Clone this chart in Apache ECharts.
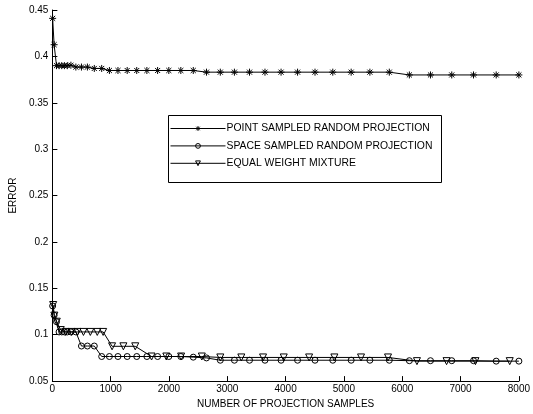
<!DOCTYPE html>
<html>
<head>
<meta charset="utf-8">
<script src="https://cdn.jsdelivr.net/npm/echarts@6/dist/echarts.min.js"></script>
<style>
  html, body { margin: 0; padding: 0; background: #fff; }
  #chart { width: 533px; height: 414px; }
</style>
</head>
<body>
<div id="chart"></div>
<script>
// Sample counts for the point- and space-sampled runs
const samplesA = [5, 30, 71, 115, 161, 206, 257, 318, 403, 499, 601, 719, 846, 978, 1125, 1283, 1447, 1621, 1805, 1997,
  2203, 2416, 2643, 2880, 3122, 3381, 3646, 3922, 4205, 4504, 4809, 5124, 5445, 5778, 6122, 6484, 6849, 7222, 7611, 8000];

// Sample counts for the equal-weight mixture
const samplesB = [14, 34, 76, 144, 228, 330, 431, 533, 651, 770, 871, 1024, 1218, 1421, 1701, 1954, 2208, 2563, 2880,
  3240, 3613, 3968, 4403, 4836, 5293, 5756, 6252, 6760, 7255, 7843];

const pointErr = [0.441, 0.4126, 0.390, 0.390, 0.390, 0.390, 0.390, 0.3905, 0.3885, 0.3885, 0.3885, 0.387, 0.387,
  0.3848, 0.3848, 0.3848, 0.3848, 0.3848, 0.3848, 0.3848, 0.3848, 0.3848,
  0.383, 0.383, 0.383, 0.383, 0.383, 0.383, 0.383, 0.383, 0.383, 0.383, 0.383, 0.383,
  0.380, 0.380, 0.380, 0.380, 0.380, 0.380];

const spaceErr = [0.131, 0.121, 0.114, 0.103, 0.103, 0.103, 0.103, 0.103, 0.103, 0.0878, 0.0878, 0.0878,
  0.0765, 0.0765, 0.0765, 0.0765, 0.0765, 0.0765, 0.0765, 0.0765, 0.0765, 0.0758, 0.075,
  0.0725, 0.0725, 0.0725, 0.0725, 0.0725, 0.0725, 0.0725, 0.0725, 0.0725, 0.0725, 0.0725,
  0.072, 0.072, 0.072, 0.072, 0.0715, 0.0715];

const mixErr = [0.132, 0.1206, 0.114, 0.105, 0.103, 0.103, 0.103, 0.103, 0.103, 0.103, 0.103,
  0.0875, 0.0875, 0.0875, 0.0765, 0.0765, 0.0765, 0.0765,
  0.0755, 0.0755, 0.0755, 0.0755, 0.0755, 0.0755, 0.0755, 0.0755,
  0.0715, 0.0715, 0.0715, 0.0715];

const seriesNames = ['POINT SAMPLED RANDOM PROJECTION', 'SPACE SAMPLED RANDOM PROJECTION', 'EQUAL WEIGHT MIXTURE'];

const FONT = '"Liberation Sans", Arial, Helvetica, sans-serif';

const pair = (xs, ys) => xs.map((x, i) => [x, ys[i]]);

// Stroked marker shapes
const ASTERISK = 'path://M0,-1L0,1M-1,0L1,0M-0.72,-0.72L0.72,0.72M-0.72,0.72L0.72,-0.72';
const TRIANGLE_DOWN = 'path://M0,0L2,0L1,1.75Z';

const hollow = { color: 'rgba(0,0,0,0)', borderColor: '#000', borderWidth: 1 };

function lineSeries(name, data, symbol, size) {
  return {
    name: name,
    type: 'line',
    data: data,
    symbol: symbol,
    symbolSize: size,
    showAllSymbol: true,
    animation: false,
    lineStyle: { color: '#000', width: 1 },
    itemStyle: hollow,
    emphasis: { disabled: true },
    z: 3
  };
}

const chart = echarts.init(document.getElementById('chart'), null, { renderer: 'canvas' });

chart.setOption({
  backgroundColor: '#fff',
  animation: false,
  textStyle: { fontFamily: FONT },
  grid: { left: 46.5, right: 13.7, top: 10, bottom: 29.5, containLabel: false },
  xAxis: {
    type: 'value',
    min: 0, max: 8000, interval: 1000,
    name: 'NUMBER OF PROJECTION SAMPLES',
    nameLocation: 'middle',
    nameGap: 16,
    nameTextStyle: { color: '#000', fontSize: 10, fontFamily: FONT },
    axisLine: { lineStyle: { color: '#000', width: 1 } },
    axisTick: { inside: true, length: 5, lineStyle: { color: '#000' } },
    axisLabel: { color: '#000', fontSize: 10, margin: 3, fontFamily: FONT, formatter: v => String(v) },
    splitLine: { show: false }
  },
  yAxis: {
    type: 'value',
    min: 0.05, max: 0.45, interval: 0.05,
    name: 'ERROR',
    nameLocation: 'middle',
    nameGap: 30,
    nameTextStyle: { color: '#000', fontSize: 10, fontFamily: FONT },
    axisLine: { show: true, lineStyle: { color: '#000', width: 1 } },
    axisTick: { show: true, inside: true, length: 5, lineStyle: { color: '#000' } },
    axisLabel: {
      color: '#000', fontSize: 10, margin: 4, fontFamily: FONT,
      formatter: v => String(+v.toFixed(2))
    },
    splitLine: { show: false }
  },
  legend: {
    data: seriesNames,
    orient: 'vertical',
    left: 170,
    top: 123.5,
    itemWidth: 55,
    itemHeight: 6,
    itemGap: 7.4,
    padding: 0,
    selectedMode: false,
    lineStyle: { color: '#000', width: 1 },
    itemStyle: { borderColor: '#000', borderWidth: 1 },
    textStyle: { color: '#000', fontSize: 10.4, fontFamily: FONT, padding: [0, 0, 0, -4] },
    z: 10
  },
  graphic: [{
    type: 'rect',
    shape: { x: 168.5, y: 115.5, width: 273, height: 67 },
    style: { fill: '#fff', stroke: '#000', lineWidth: 1 },
    z: 5
  }],
  series: [
    lineSeries(seriesNames[0], pair(samplesA, pointErr), ASTERISK, 7),
    lineSeries(seriesNames[1], pair(samplesA, spaceErr), 'circle', 6),
    lineSeries(seriesNames[2], pair(samplesB, mixErr), TRIANGLE_DOWN, 7)
  ]
});
</script>
</body>
</html>
